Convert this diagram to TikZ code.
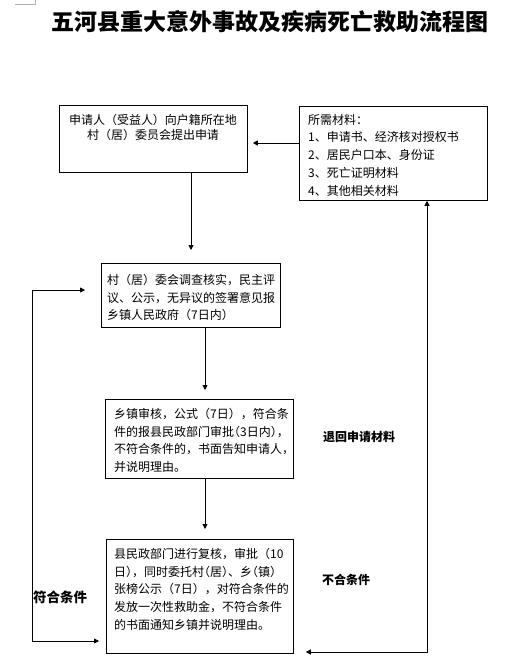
\documentclass[tikz,border=0pt]{standalone}
\usepackage{fontspec}
\newfontfamily\cjk{Noto Sans CJK SC}
\usetikzlibrary{arrows.meta,calc}
\newcommand\hlp{\makebox[0.5em][r]{（}}
\newcommand\hrp{\makebox[0.5em][l]{）}}
\begin{document}
\begin{tikzpicture}[x=1pt,y=-1pt,
  box/.style={draw,line width=0.8pt,inner sep=0pt,anchor=north west},
  txt/.style={font=\cjk\fontsize{12pt}{17.7pt}\selectfont,align=left,inner sep=0pt,anchor=north west},
  lbl/.style={font=\cjk\bfseries\fontsize{12pt}{14pt}\selectfont,inner sep=0pt},
  arr/.style={line width=0.8pt,-{Triangle[length=5pt,width=5pt]}},
  darr/.style={line width=0.8pt,{Triangle[length=5pt,width=5pt]}-{Triangle[length=5pt,width=5pt]}}]
\useasboundingbox (0,0) rectangle (505,665);
% corner mark
\draw[gray!60,line width=0.6pt] (15,4) -- (35,4) -- (35,0);
% title
\node[font=\cjk\bfseries\fontsize{23pt}{28pt}\selectfont,inner sep=0pt] (title) at (270,22) {五河县重大意外事故及疾病死亡救助流程图};
% boxes
\node[box,minimum width=188pt,minimum height=67pt] (b1) at (59,105) {};
\node[box,minimum width=188pt,minimum height=94pt] (mat) at (299,106) {};
\node[box,minimum width=179pt,minimum height=64pt] (b2) at (101,263) {};
\node[box,minimum width=188pt,minimum height=79pt] (b3) at (105,399) {};
\node[box,minimum width=187pt,minimum height=114pt] (b4) at (106,539) {};
% texts
\node[txt,align=center,anchor=north,font=\cjk\fontsize{12pt}{15pt}\selectfont] (t1) at (153,114) {申请人（受益人）向户籍所在地\\村（居）委员会提出申请};
\node[txt] (tm) at (308,114) {所需材料：\\1、申请书、经济核对授权书\\2、居民户口本、身份证\\3、死亡证明材料\\4、其他相关材料};
\node[txt] (t2) at (107,274) {村（居）委会调查核实，民主评\\议、公示，无异议的签署意见报\\乡镇人民政府（7日内）};
\node[txt] (t3) at (114,408) {乡镇审核，公式（7日），符合条\\件的报县民政部门审批\hlp 3日内\hrp，\\不符合条件的，书面告知申请人，\\并说明理由。};
\node[txt] (t4) at (114,548) {县民政部门进行复核，审批（10\\日\hrp，同时委托村\hlp 居\hrp、乡\hlp 镇\hrp\\张榜公示（7日），对符合条件的\\发放一次性救助金，不符合条件\\的书面通知乡镇并说明理由。};
% labels
\node[lbl] (l1) at (359,437) {退回申请材料};
\node[lbl] (l2) at (346,580) {不合条件};
\node[lbl,font=\cjk\bfseries\fontsize{13.5pt}{15pt}\selectfont,anchor=west] (l3) at (33,597) {符合条件};
% helper coordinates
\coordinate (xa) at (191,0);
\coordinate (xb) at (205,0);
\coordinate (ya) at (0,143);
\coordinate (yl1) at (0,290);
\coordinate (yl2) at (0,641);
\coordinate (xl) at (32,0);
\coordinate (xr) at (427,0);
\coordinate (yr) at (0,652);
% connectors
\draw[arr,shorten >=13pt] (b1.south -| xa) -- (b2.north -| xa);
\draw[arr,shorten >=5pt] (mat.west |- ya) -- (b1.east |- ya);
\draw[arr,shorten >=9pt] (b2.south -| xb) -- (b3.north -| xb);
\draw[arr,shorten >=10pt] (b3.south -| xb) -- (b4.north -| xb);
\draw[darr,shorten <=16pt,shorten >=7pt] (b2.west |- yl1) -- (xl |- yl1) -- (xl |- yl2) -- (b4.west |- yl2);
\draw[darr,shorten <=12pt] (b4.east |- yr) -- (xr |- yr) -- (mat.south -| xr);
\end{tikzpicture}
\end{document}
